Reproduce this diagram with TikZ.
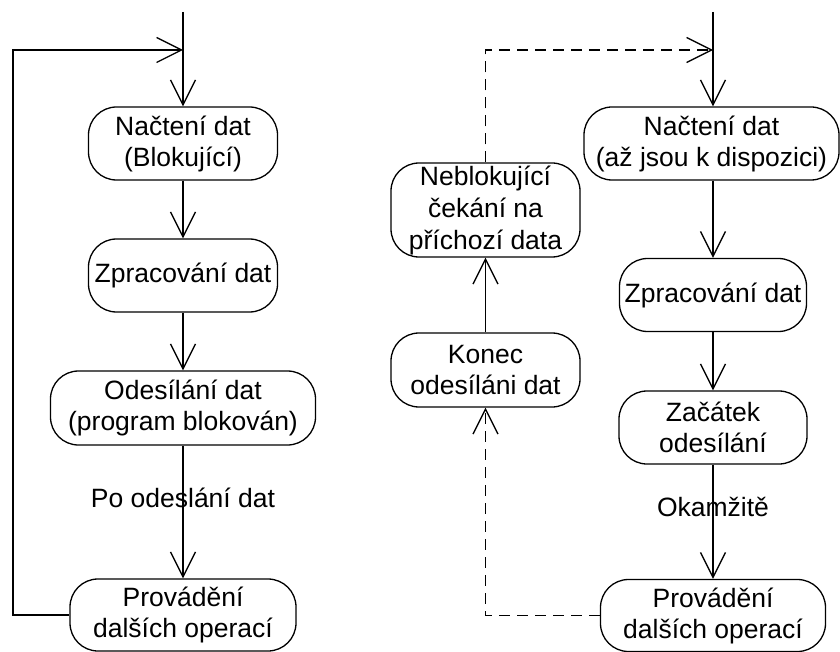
\documentclass[tikz,border=0pt]{standalone}
\usepackage{fontspec}
\setmainfont{Liberation Sans}
\usetikzlibrary{arrows.meta}
\tikzset{
  box/.style={draw, line width=1.3pt, rounded corners=28pt, inner sep=0pt, align=center,
    font=\fontsize{26.5}{31}\selectfont},
  lbl/.style={inner sep=0pt, font=\fontsize{26.5}{31}\selectfont},
  arr/.style={line width=1.3pt, -{Straight Barb[length=25pt,width=25pt]}},
  darr/.style={arr, dash pattern=on 11pt off 7pt}
}
\begin{document}
\begin{tikzpicture}[x=1pt,y=-1pt]
\useasboundingbox (0,0) rectangle (840,652);
% left column
\coordinate (lt) at (183,12);
\coordinate (lj) at (183,50);
\coordinate (lc) at (13,50);
\node[box, minimum width=189pt, minimum height=73pt] (L1) at (183,143.5) {Načtení dat\\(Blokující)};
\node[box, minimum width=189pt, minimum height=73pt] (L2) at (183,275.5) {Zpracování dat};
\node[box, minimum width=265pt, minimum height=74pt] (L3) at (183,408) {Odesílání dat\\(program blokován)};
\node[box, minimum width=226pt, minimum height=72pt] (L4) at (183,615) {Provádění\\dalších operací};
\draw[arr] (lt) -- (L1.north);
\draw[arr] (L1.south) -- (L2.north);
\draw[arr] (L2.south) -- (L3.north);
\draw[arr] (L3.south) -- node[lbl, pos=0.39] {Po odeslání dat} (L4.north);
\draw[arr] (L4.west) -| (lc) -- (lj);
% right column
\coordinate (rt) at (713,12);
\coordinate (rj) at (713,50);
\node[box, minimum width=255pt, minimum height=73pt] (R1) at (711.5,143.5) {Načtení dat\\(až jsou k dispozici)};
\node[box, minimum width=187pt, minimum height=73pt] (R2) at (713,295) {Zpracování dat};
\node[box, minimum width=188pt, minimum height=73pt] (R3) at (713,427.5) {Začátek\\odesílání};
\node[box, minimum width=225pt, minimum height=72pt] (R4) at (713,615.5) {Provádění\\dalších operací};
\node[box, minimum width=189pt, minimum height=94pt, font=\fontsize{26.5}{32}\selectfont] (N) at (485.5,210) {Neblokující\\čekání na\\příchozí data};
\node[box, minimum width=189pt, minimum height=74pt] (K) at (485.5,370) {Konec\\odesíláni dat};
\draw[arr] (rt) -- (rt |- R1.north);
\draw[arr] (rt |- R1.south) -- (R2.north);
\draw[arr] (R2.south) -- (R3.north);
\draw[arr] (R3.south) -- node[lbl, pos=0.37] {Okamžitě} (R4.north);
\draw[darr] (N.north) |- (rj);
\draw[arr] (K.north) -- (N.south);
\draw[darr] (R4.west) -| (K.south);
\end{tikzpicture}
\end{document}
